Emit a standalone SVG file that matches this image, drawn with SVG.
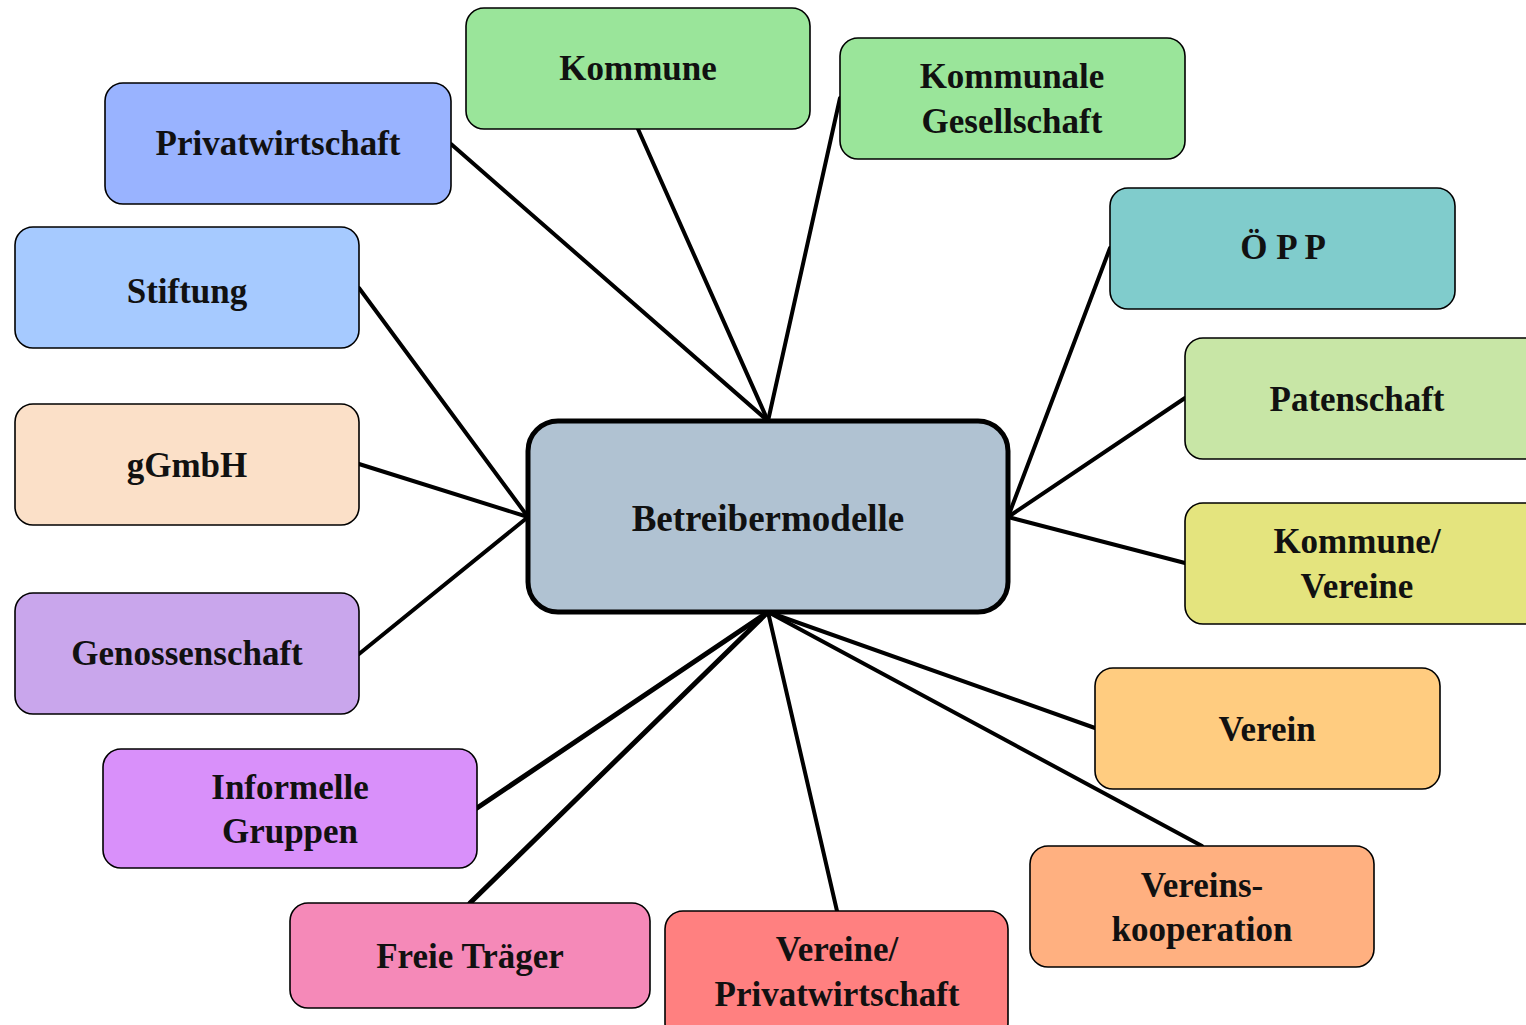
<svg xmlns="http://www.w3.org/2000/svg" width="1526" height="1025" viewBox="0 0 1526 1025">
<style>
.n{stroke:#000;stroke-width:1.6}
.t{font-family:"Liberation Serif","Times New Roman",serif;font-weight:bold;font-size:35px;text-anchor:middle;fill:#111}
.c{stroke:#000;stroke-width:4;fill:none;stroke-linecap:round}
.c.w{stroke-width:5}
</style>
<rect width="1526" height="1025" fill="#fff"/>
<g id="connectors">
<line class="c" x1="451" y1="144" x2="768" y2="421"/>
<line class="c" x1="638" y1="129" x2="768" y2="421"/>
<line class="c" x1="840" y1="98" x2="768" y2="421"/>
<line class="c" x1="359" y1="288" x2="528" y2="517"/>
<line class="c" x1="359" y1="464" x2="528" y2="517"/>
<line class="c" x1="359" y1="654" x2="528" y2="517"/>
<line class="c" x1="1110" y1="248" x2="1008" y2="517"/>
<line class="c" x1="1185" y1="398" x2="1008" y2="517"/>
<line class="c" x1="1185" y1="563" x2="1008" y2="517"/>
<line class="c" x1="1095" y1="728" x2="768" y2="612"/>
<line class="c" x1="1202" y1="846" x2="768" y2="612"/>
<line class="c" x1="837" y1="911" x2="768" y2="612"/>
<line class="c w" x1="470" y1="903" x2="768" y2="612"/>
<line class="c w" x1="477" y1="808" x2="768" y2="612"/>
</g>
<g id="kommune"><rect class="n" x="466" y="8" width="344" height="121" rx="18" fill="#9AE59A"/><text class="t" x="638" y="80">Kommune</text></g>
<g id="kommunale-gesellschaft"><rect class="n" x="840" y="38" width="345" height="121" rx="18" fill="#9AE59A"/><text class="t" x="1012" y="88">Kommunale</text><text class="t" x="1012" y="133">Gesellschaft</text></g>
<g id="privatwirtschaft"><rect class="n" x="105" y="83" width="346" height="121" rx="18" fill="#99B3FF"/><text class="t" x="278" y="155">Privatwirtschaft</text></g>
<g id="stiftung"><rect class="n" x="15" y="227" width="344" height="121" rx="18" fill="#A6CAFF"/><text class="t" x="187" y="303">Stiftung</text></g>
<g id="oepp"><rect class="n" x="1110" y="188" width="345" height="121" rx="18" fill="#80CCCC"/><text class="t" x="1283" y="259">Ö P P</text></g>
<g id="patenschaft"><rect class="n" x="1185" y="338" width="360" height="121" rx="18" fill="#C8E6A6"/><text class="t" x="1357" y="411">Patenschaft</text></g>
<g id="ggmbh"><rect class="n" x="15" y="404" width="344" height="121" rx="18" fill="#FBE0C8"/><text class="t" x="187" y="477">gGmbH</text></g>
<g id="betreibermodelle"><rect x="528" y="421" width="480" height="191" rx="30" fill="#B0C2D2" stroke="#000" stroke-width="5"/><text class="t" x="768" y="531" style="font-size:37px">Betreibermodelle</text></g>
<g id="kommune-vereine"><rect class="n" x="1185" y="503" width="360" height="121" rx="18" fill="#E4E47E"/><text class="t" x="1357" y="553">Kommune/</text><text class="t" x="1357" y="598">Vereine</text></g>
<g id="genossenschaft"><rect class="n" x="15" y="593" width="344" height="121" rx="18" fill="#C9A6EC"/><text class="t" x="187" y="665">Genossenschaft</text></g>
<g id="verein"><rect class="n" x="1095" y="668" width="345" height="121" rx="18" fill="#FFCC80"/><text class="t" x="1267" y="741">Verein</text></g>
<g id="informelle-gruppen"><rect class="n" x="103" y="749" width="374" height="119" rx="18" fill="#D990FA"/><text class="t" x="290" y="799">Informelle</text><text class="t" x="290" y="843">Gruppen</text></g>
<g id="vereinskooperation"><rect class="n" x="1030" y="846" width="344" height="121" rx="18" fill="#FFB080"/><text class="t" x="1202" y="897">Vereins-</text><text class="t" x="1202" y="941">kooperation</text></g>
<g id="freie-traeger"><rect class="n" x="290" y="903" width="360" height="105" rx="18" fill="#F589B8"/><text class="t" x="470" y="968">Freie Träger</text></g>
<g id="vereine-privatwirtschaft"><rect class="n" x="665" y="911" width="343" height="130" rx="18" fill="#FF8080"/><text class="t" x="837" y="961">Vereine/</text><text class="t" x="837" y="1006">Privatwirtschaft</text></g>
</svg>
